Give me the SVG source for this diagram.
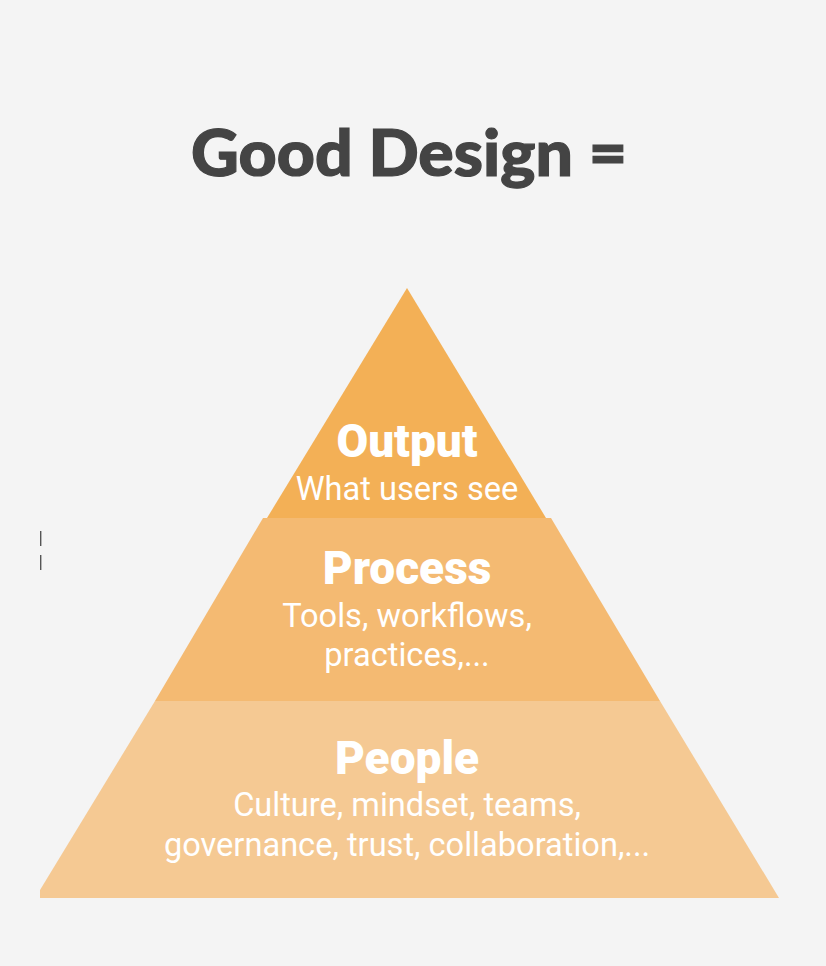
<svg xmlns="http://www.w3.org/2000/svg" width="826" height="966" viewBox="0 0 826 966">
<style>
.title{font-family:Lato,"Liberation Sans",sans-serif;font-weight:900;font-size:64px;fill:#444444}
.head{font-family:Roboto,"Liberation Sans",sans-serif;font-weight:900;font-size:46px;fill:#ffffff;text-anchor:middle}
.sub{font-family:Roboto,"Liberation Sans",sans-serif;font-weight:400;font-size:32.6px;fill:#ffffff;text-anchor:middle}
.mark{stroke:#555555;stroke-width:1.4}
</style>
<rect width="826" height="966" fill="#f4f4f4"/>
<text class="title" x="191" y="176" textLength="436" lengthAdjust="spacingAndGlyphs" stroke="#444444" stroke-width="1.2">Good Design =</text>
<line class="mark" x1="40.7" y1="531" x2="40.7" y2="546"/>
<line class="mark" x1="40.7" y1="555" x2="40.7" y2="570"/>
<g id="people">
<polygon points="155,701 660,701 779,898 40,898 40,890" fill="#f5c993"/>
<text class="head" x="407" y="774">People</text>
<text class="sub" x="407" y="815.5">Culture, mindset, teams,</text>
<text class="sub" x="407" y="855.5">governance, trust, collaboration,...</text>
</g>
<g id="process">
<polygon points="263,518 551,518 660,701 155,701" fill="#f4ba72"/>
<text class="head" x="407" y="584">Process</text>
<text class="sub" x="407" y="626.5">Tools, workflows,</text>
<text class="sub" x="407" y="666">practices,...</text>
</g>
<g id="output">
<polygon points="407,288 546,518 267,518" fill="#f3b056"/>
<text class="head" x="407" y="457">Output</text>
<text class="sub" x="407" y="499.5">What users see</text>
</g>
<g id="connectors"/>
</svg>
